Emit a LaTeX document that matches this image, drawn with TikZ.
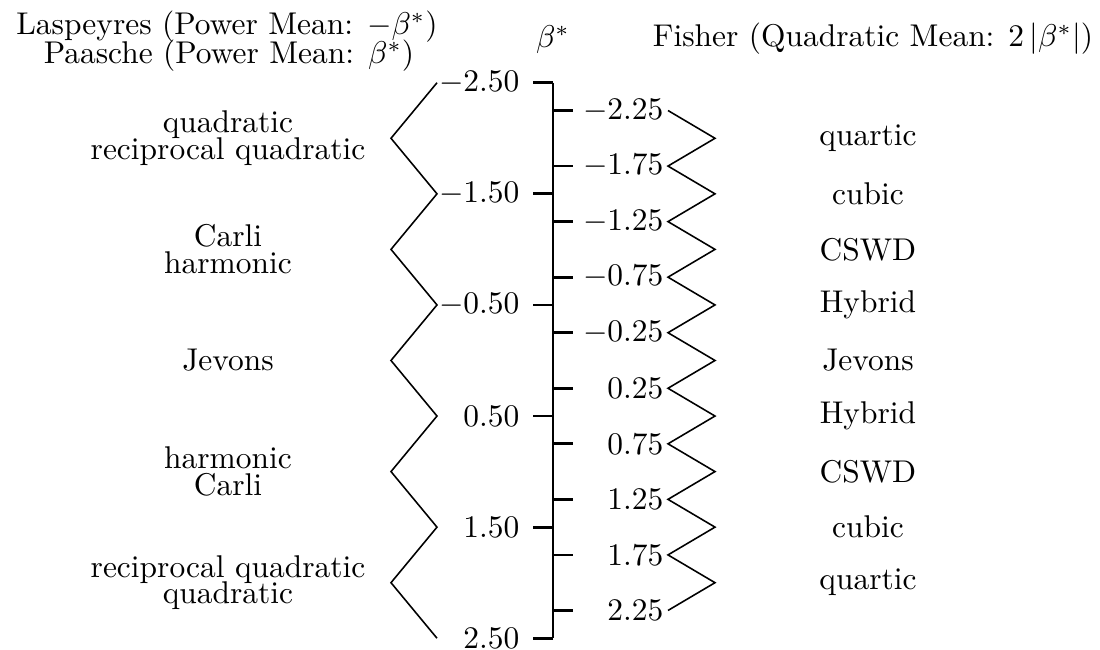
\documentclass[tikz,border=0pt]{standalone}
\begin{document}
\begin{tikzpicture}[x=0.318pt,y=-0.318pt,
  axisline/.style={line width=0.9pt},
  zig/.style={line width=0.5pt,line join=miter},
  ticklab/.style={anchor=east,inner sep=0pt},
  catlab/.style={align=center,inner sep=0pt},
  hdr/.style={anchor=base,inner sep=0pt}]
\useasboundingbox (0,0) rectangle (1100,650);
% header
\node[hdr] (lasp) at (227,35) {Laspeyres (Power Mean: $-\beta^*$)};
\node[hdr] (paas) at (229,64) {Paasche (Power Mean: $\beta^*$)};
\node[hdr] (beta) at (553,48) {$\beta^*$};
\node[hdr] (fish) at (873,47) {Fisher (Quadratic Mean: $2\,|\beta^*|$)};
% axis
\coordinate (atop) at (553,82.75);
\coordinate (abot) at (553,638.25);
\draw[axisline] (atop) -- (abot);
% left ticks
\foreach \v/\t [count=\i] in {-2.5/$-2.50$,-1.5/$-1.50$,-0.5/$-0.50$,0.5/0.50,1.5/1.50,2.5/2.50}{
  \coordinate (la\i) at (553,{360.5+111.1*\v});
  \coordinate (lb\i) at (533,{360.5+111.1*\v});
  \draw[axisline] (la\i) -- (lb\i);
  \node[ticklab] (ll\i) at (520,{360.5+111.1*\v}) {\t};
}
% right ticks
\foreach \v/\t [count=\i] in {-2.25/$-2.25$,-1.75/$-1.75$,-1.25/$-1.25$,-0.75/$-0.75$,-0.25/$-0.25$,0.25/0.25,0.75/0.75,1.25/1.25,1.75/1.75,2.25/2.25}{
  \coordinate (ra\i) at (553,{360.5+111.1*\v});
  \coordinate (rb\i) at (573,{360.5+111.1*\v});
  \draw[axisline] (ra\i) -- (rb\i);
  \node[ticklab] (rl\i) at (664,{360.5+111.1*\v}) {\t};
}
% left zigzag
\foreach \i in {0,...,10}{
  \pgfmathsetmacro\xx{ifthenelse(mod(\i,2)==0,437,391)}
  \coordinate (zl\i) at (\xx,{360.5+111.1*(-2.5+0.5*\i)});
}
\draw[zig] (zl0) \foreach \i in {1,...,10}{ -- (zl\i)};
% right zigzag
\foreach \i in {0,...,18}{
  \pgfmathsetmacro\xx{ifthenelse(mod(\i,2)==0,668,715)}
  \coordinate (zr\i) at (\xx,{360.5+111.1*(-2.25+0.25*\i)});
}
\draw[zig] (zr0) \foreach \i in {1,...,18}{ -- (zr\i)};
% left labels
\node[catlab] (c1) at (228,{360.5+111.1*(-2)}) {quadratic\\[-3.5pt]reciprocal quadratic};
\node[catlab] (c2) at (228,{360.5+111.1*(-1)}) {Carli\\[-3.5pt]harmonic};
\node[catlab] (c3) at (228,{360.5}) {Jevons};
\node[catlab] (c4) at (228,{360.5+111.1*(1)}) {harmonic\\[-3.5pt]Carli};
\node[catlab] (c5) at (228,{360.5+111.1*(2)}) {reciprocal quadratic\\[-3.5pt]quadratic};
% right labels
\foreach \v/\t [count=\i] in {-2/quartic,-1.5/cubic,-1/CSWD,-0.5/Hybrid,0/Jevons,0.5/Hybrid,1/CSWD,1.5/cubic,2/quartic}{
  \node[inner sep=0pt] (f\i) at (868,{360.5+111.1*\v}) {\t};
}
\end{tikzpicture}
\end{document}
